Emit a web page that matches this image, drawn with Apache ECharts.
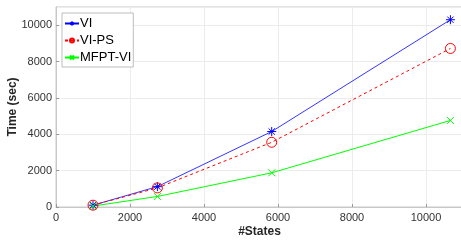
<!DOCTYPE html>
<html lang="en">
<head>
    <meta charset="utf-8">
    <title>Time vs States</title>
    <script src="https://cdn.jsdelivr.net/npm/echarts@6/dist/echarts.min.js"></script>
</head>
<body style="margin:0">
<div id="main" style="width:461px;height:245px;"></div>

<script type="text/javascript">
    var states = [1000, 2740, 5830, 10660];
    var viTime = [100, 1120, 4150, 10300];
    var vipsTime = [100, 1050, 3560, 8720];
    var mfptTime = [50, 580, 1880, 4760];

    function pairs(ys) {
        return states.map(function (x, i) { return [x, ys[i]]; });
    }

    var asterisk = 'path://M0,-10L0,10M-10,0L10,0M-7,-7L7,7M-7,7L7,-7';
    var cross = 'path://M-7,-7L7,7M-7,7L7,-7';

    var myChart = echarts.init(document.getElementById('main'));

    var option = {
        animation: false,
        grid: {
            left: 56, right: -2, top: 7, bottom: 38,
            outerBoundsMode: 'none',
            show: true, borderColor: '#c8c8c8', borderWidth: 1
        },
        legend: {
            left: 62, top: 13,
            orient: 'vertical',
            backgroundColor: '#fff',
            borderColor: '#bdbdbd',
            borderWidth: 1,
            borderRadius: 0,
            padding: [4, 2, 3, 2],
            itemGap: 4,
            itemWidth: 14,
            itemHeight: 5,
            textStyle: {fontSize: 13, color: '#000', fontFamily: 'Liberation Sans', padding: [0, 0, 0, -4]},
            data: ['VI', 'VI-PS', 'MFPT-VI']
        },
        xAxis: {
            type: 'value', min: 0, max: 11000, interval: 2000,
            name: '#States', nameLocation: 'middle', nameGap: 19, nameMoveOverlap: false,
            nameTextStyle: {fontSize: 12, fontWeight: 'bold', color: '#262626', fontFamily: 'Liberation Sans'},
            axisLine: {lineStyle: {color: '#c8c8c8'}},
            axisTick: {show: true, inside: true, length: 3, lineStyle: {color: '#999'}},
            axisLabel: {fontSize: 11, color: '#333', fontFamily: 'Liberation Sans', margin: 5, showMaxLabel: false,
                formatter: function (v) { return String(v); }},
            splitLine: {lineStyle: {color: '#ececec'}}
        },
        yAxis: {
            type: 'value', min: 0, max: 11000, interval: 2000,
            name: 'Time (sec)', nameLocation: 'middle', nameGap: 37, nameRotate: 90, nameMoveOverlap: false,
            nameTextStyle: {fontSize: 12, fontWeight: 'bold', color: '#262626', fontFamily: 'Liberation Sans'},
            axisLine: {show: true, lineStyle: {color: '#c8c8c8'}},
            axisTick: {show: true, inside: true, length: 3, lineStyle: {color: '#999'}},
            axisLabel: {fontSize: 11, color: '#333', fontFamily: 'Liberation Sans', margin: 4, showMaxLabel: false,
                formatter: function (v) { return String(v); }},
            splitLine: {lineStyle: {color: '#ececec'}}
        },
        series: [
            {
                name: 'VI', type: 'line', data: pairs(viTime),
                symbol: asterisk, symbolSize: 9,
                itemStyle: {color: '#0000ff', borderColor: '#0000ff', borderWidth: 1},
                lineStyle: {color: '#0000ff', width: 0.8}
            },
            {
                name: 'VI-PS', type: 'line', data: pairs(vipsTime),
                symbol: 'circle', symbolSize: 10,
                itemStyle: {color: 'rgba(255,0,0,0)', borderColor: '#ff0000', borderWidth: 1},
                lineStyle: {color: '#ff0000', width: 1, type: [3, 3]}
            },
            {
                name: 'MFPT-VI', type: 'line', data: pairs(mfptTime),
                symbol: cross, symbolSize: 7,
                itemStyle: {color: '#00ff00', borderColor: '#00ff00', borderWidth: 1},
                lineStyle: {color: '#00ff00', width: 1}
            }
        ]
    };

    myChart.setOption(option);
</script>

</body>
</html>
